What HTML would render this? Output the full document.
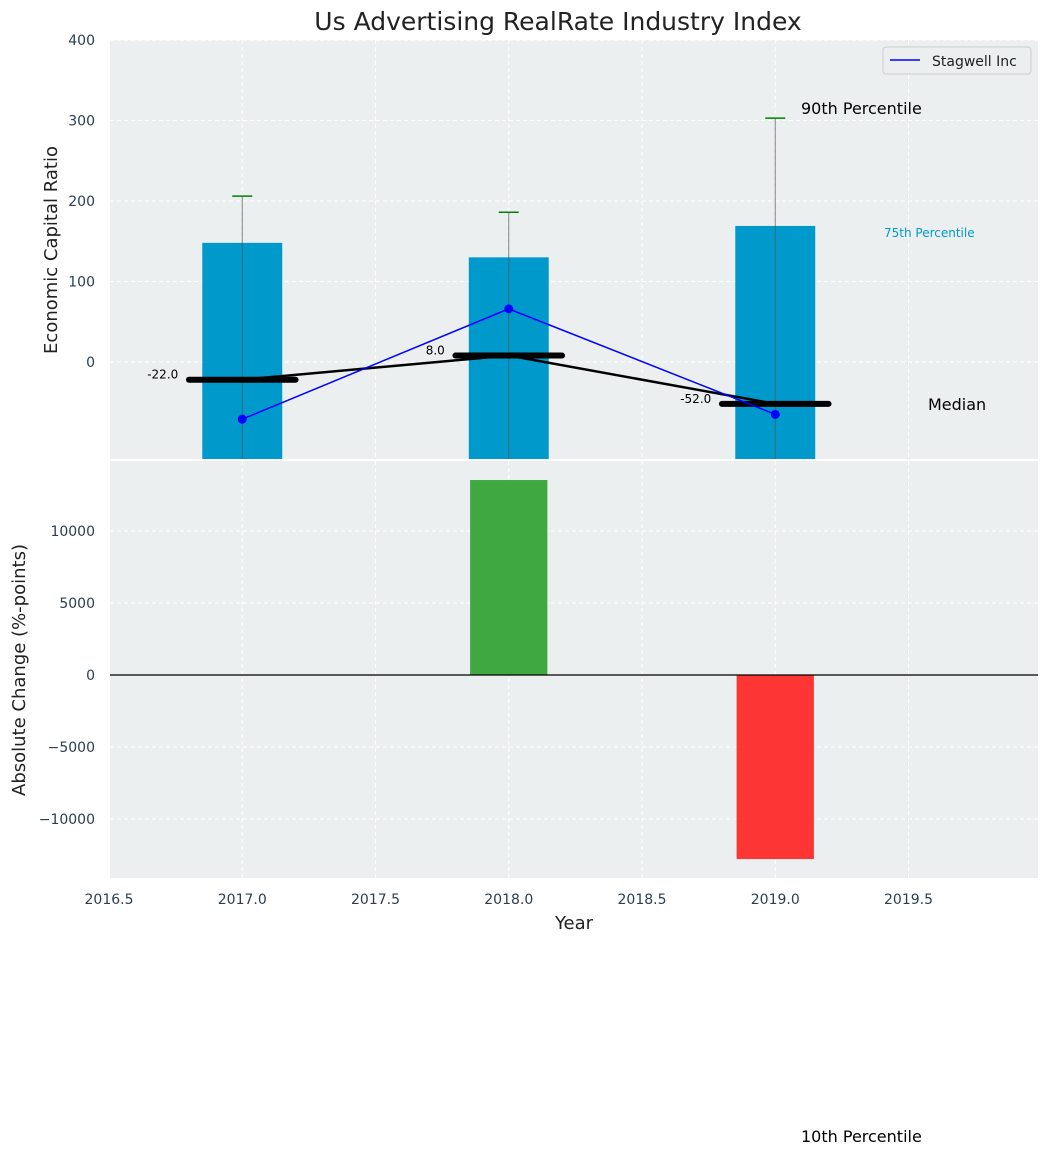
<!DOCTYPE html>
<html><head><meta charset="utf-8"><style>
body{margin:0;background:#fff;font-family:"Liberation Sans","DejaVu Sans",sans-serif}
svg text{font-family:"DejaVu Sans","Liberation Sans",sans-serif}
</style></head><body>
<svg id="chart" width="1048" height="1156" xmlns="http://www.w3.org/2000/svg"></svg>
<script>
const years=[2017,2018,2019];
const pct75=[148,130,169];
const pct90=[206,186,303];
const stagwell=[-71,66,-65];
const medians=[-22,8,-52];
const absChange=[0,13540,-12780];
const xTicks=[2016.5,2017.0,2017.5,2018.0,2018.5,2019.0,2019.5];
const yTopTicks=[0,100,200,300,400];
const yBotTicks=[-10000,-5000,0,5000,10000];

const NS="http://www.w3.org/2000/svg";
const svg=document.getElementById('chart');
function mk(tag,attrs,parent){const e=document.createElementNS(NS,tag);for(const k in attrs)e.setAttribute(k,attrs[k]);(parent||svg).appendChild(e);return e;}
const X=v=>109+(v-2016.5)*266.5;
const YT=v=>362-v*0.805;
const YB=v=>675-v*0.0144;
const L=110,R=1038,T1=40,B1=459,T2=461,B2=878;

let t=mk('text',{x:558,y:30,'text-anchor':'middle','font-size':25,fill:'#222'});t.textContent='Us Advertising RealRate Industry Index';


let bg=mk('rect',{x:L,y:T1,width:R-L,height:B1-T1,fill:'#eceff0'});

let bg2=mk('rect',{x:L,y:T2,width:R-L,height:B2-T2,fill:'#eceff0'});


const clip=mk('clipPath',{id:'c1'});mk('rect',{x:L,y:T1,width:R-L,height:B1-T1},clip);
const clip2=mk('clipPath',{id:'c2'});mk('rect',{x:L,y:T2,width:R-L,height:B2-T2},clip2);

xTicks.forEach(v=>{
 mk('line',{x1:X(v),x2:X(v),y1:T1,y2:B1,stroke:'#fff','stroke-dasharray':'4,3','stroke-width':1});
 mk('line',{x1:X(v),x2:X(v),y1:T2,y2:B2,stroke:'#fff','stroke-dasharray':'4,3','stroke-width':1});
 let tl=mk('text',{x:X(v),y:904,'text-anchor':'middle','font-size':14,fill:'#2c3e50'});tl.textContent=v.toFixed(1);
 
});
yTopTicks.forEach(v=>{
 mk('line',{x1:L,x2:R,y1:YT(v),y2:YT(v),stroke:'#fff','stroke-dasharray':'4,3'});
 let tl=mk('text',{x:95,y:YT(v)+5,'text-anchor':'end','font-size':14,fill:'#2c3e50'});tl.textContent=v;
 
});
yBotTicks.forEach(v=>{
 mk('line',{x1:L,x2:R,y1:YB(v),y2:YB(v),stroke:'#fff','stroke-dasharray':'4,3'});
 let tl=mk('text',{x:95,y:YB(v)+5,'text-anchor':'end','font-size':14,fill:'#2c3e50'});tl.textContent=(v<0?'\u2212'+(-v):v);
 
});

const g1=mk('g',{'clip-path':'url(#c1)'});
years.forEach((y,i)=>{
 let b=mk('rect',{x:X(y-0.15),y:YT(pct75[i]),width:0.3*266.5,height:B1-YT(pct75[i])+5,fill:'#0099cc'},g1);
 
 mk('line',{x1:X(y),x2:X(y),y1:YT(pct90[i]),y2:B1+5,stroke:'#555','stroke-width':1,opacity:0.7},g1);
 let w=mk('line',{x1:X(y)-10,x2:X(y)+10,y1:YT(pct90[i]),y2:YT(pct90[i]),stroke:'green','stroke-width':1.5},g1);
 
});
let mp=years.map((y,i)=>X(y)+','+YT(medians[i])).join(' ');
let ml=mk('polyline',{points:mp,fill:'none',stroke:'#000','stroke-width':2.5},g1);

years.forEach((y,i)=>{
 let s=mk('line',{x1:X(y-0.2),x2:X(y+0.2),y1:YT(medians[i]),y2:YT(medians[i]),stroke:'#000','stroke-width':6,'stroke-linecap':'round'},g1);
 
 let lt=mk('text',{x:X(y-0.24),y:YT(medians[i])-1,'text-anchor':'end','font-size':12,fill:'#000'});lt.textContent=medians[i].toFixed(1);
 
});
let sp=years.map((y,i)=>X(y)+','+YT(stagwell[i])).join(' ');
let sl=mk('polyline',{points:sp,fill:'none',stroke:'blue','stroke-width':1.5},g1);

years.forEach((y,i)=>{let c=mk('circle',{cx:X(y),cy:YT(stagwell[i]),r:4.5,fill:'blue'},g1);
 });

[['90th Percentile',801,114,16,'#000'],['75th Percentile',884,237,12,'#0099cc'],['Median',928,410,16,'#000'],['10th Percentile',801,1142,16,'#000']].forEach(a=>{
 let e=mk('text',{x:a[1],y:a[2],'font-size':a[3],fill:a[4]});e.textContent=a[0];
 
});

let lg=mk('g',{});
mk('rect',{x:883,y:47,width:148,height:27,rx:3,fill:'#eceff0',stroke:'#ccc'},lg);
mk('line',{x1:890,x2:920,y1:60,y2:60,stroke:'blue','stroke-width':1.5},lg);
let lt=mk('text',{x:932,y:66,'font-size':14,fill:'#222'},lg);lt.textContent='Stagwell Inc';

const g2=mk('g',{'clip-path':'url(#c2)'});
years.forEach((y,i)=>{
 const v=absChange[i];if(!v)return;
 let b=mk('rect',{x:X(y-0.145),y:Math.min(YB(v),YB(0)),width:0.29*266.5,height:Math.abs(YB(v)-YB(0)),fill:v>0?'#2ca02c':'#ff2020',opacity:0.9},g2);
 
});
mk('line',{x1:L,x2:R,y1:YB(0),y2:YB(0),stroke:'#000','stroke-width':1.2});

let a1=mk('text',{x:57,y:250,'text-anchor':'middle','font-size':18,fill:'#222',transform:'rotate(-90 57 250)'});a1.textContent='Economic Capital Ratio';

let a2=mk('text',{x:25,y:670,'text-anchor':'middle','font-size':18,fill:'#222',transform:'rotate(-90 25 670)'});a2.textContent='Absolute Change (%-points)';

let a3=mk('text',{x:574,y:929,'text-anchor':'middle','font-size':18,fill:'#222'});a3.textContent='Year';

</script></body></html>
